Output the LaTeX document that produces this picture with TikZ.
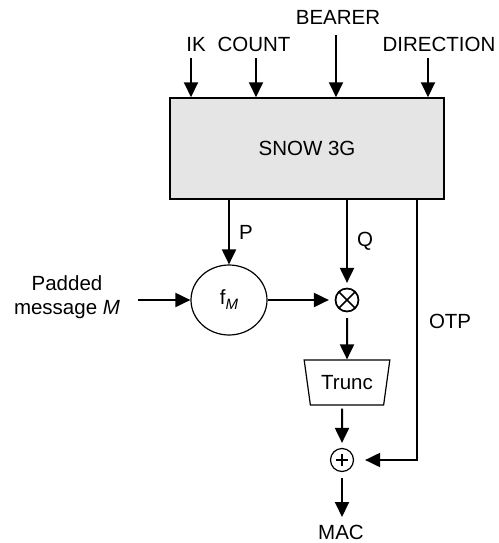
\documentclass[tikz,border=0pt]{standalone}
\usepackage{fontspec}
\setmainfont{Liberation Sans}
\usetikzlibrary{arrows.meta,shapes.geometric}
\begin{document}
\begin{tikzpicture}[x=1pt,y=-1pt,
  every node/.style={font=\fontsize{20.5}{24}\selectfont},
  arr/.style={line width=2pt,-{Triangle[length=15pt,width=14pt]}},
  lbl/.style={inner sep=0pt},
  xorop/.style={circle,draw,line width=1.2pt,minimum size=23pt,inner sep=0pt}]
\useasboundingbox (0,0) rectangle (498,543);
% main box
\node (snow) [draw,line width=1.5pt,fill=black!10,minimum width=274pt,minimum height=101pt,inner sep=0pt] at (307,148.5) {SNOW 3G};
% inputs
\node (ik) [lbl] at (196,44) {IK};
\node (count) [lbl] at (254,44) {COUNT};
\node (bearer) [lbl] at (338,17) {BEARER};
\node (dir) [lbl] at (439,44) {DIRECTION};
\coordinate (ikS) at (191,58);
\coordinate (coS) at (256,58);
\coordinate (beS) at (336,35);
\coordinate (diS) at (428,58);
\draw[arr] (ikS) -- (ikS |- snow.north);
\draw[arr] (coS) -- (coS |- snow.north);
\draw[arr] (beS) -- (beS |- snow.north);
\draw[arr] (diS) -- (diS |- snow.north);
% fM
\node (fm) [ellipse,draw,line width=1.2pt,minimum width=76pt,minimum height=70pt,inner sep=0pt] at (229,300) {f\raisebox{-5pt}{\fontsize{15}{15}\selectfont\itshape M}};
\draw[arr] (snow.south -| fm.north) -- node[right=9pt,lbl] {P} (fm.north);
% padded message
\node (pad) [lbl,align=center] at (67,297) {Padded\\message \textit{M}};
\coordinate (padE) at (138,300);
\draw[arr] (padE) -- (fm.west);
% otimes
\node (mul) [xorop] at (347,300) {};
\draw[line width=1.6pt] (mul.north west) -- (mul.south east) (mul.north east) -- (mul.south west);
\draw[line width=1.6pt] (mul) circle (11.5pt);
\coordinate (qS) at (347,199);
\draw[arr] (qS) -- node[right=9pt,lbl] {Q} ([yshift=5pt]mul.north);
\draw[arr] (fm.east) -- ([xshift=-6pt]mul.west);
% trunc
\node (trunc) [trapezium,trapezium stretches=true,shape border rotate=180,draw,line width=1.2pt,minimum width=86pt,minimum height=45pt,trapezium angle=73,inner sep=0pt] at (347,382.5) {Trunc};
\draw[arr] ([yshift=-6pt]mul.south) -- (trunc.north);
% oplus
\node (add) [xorop] at (342,460) {};
\draw[line width=1.2pt] ([yshift=-6pt]add.center) -- ([yshift=6pt]add.center) ([xshift=-6pt]add.center) -- ([xshift=6pt]add.center);
\draw[arr] ([xshift=-5pt,yshift=-3pt]trunc.south) -- ([yshift=5pt]add.north);
% OTP
\coordinate (otpS) at (417,199);
\coordinate (otpC) at (417,460);
\draw[arr] (otpS) -- node[right=11pt,lbl,pos=0.47] {OTP} (otpC) -- ([xshift=11pt]add.east);
% MAC
\node (mac) [lbl] at (341,532) {MAC};
\coordinate (macN) at (342,517);
\draw[arr] ([yshift=-6pt]add.south) -- (macN);
\end{tikzpicture}
\end{document}
